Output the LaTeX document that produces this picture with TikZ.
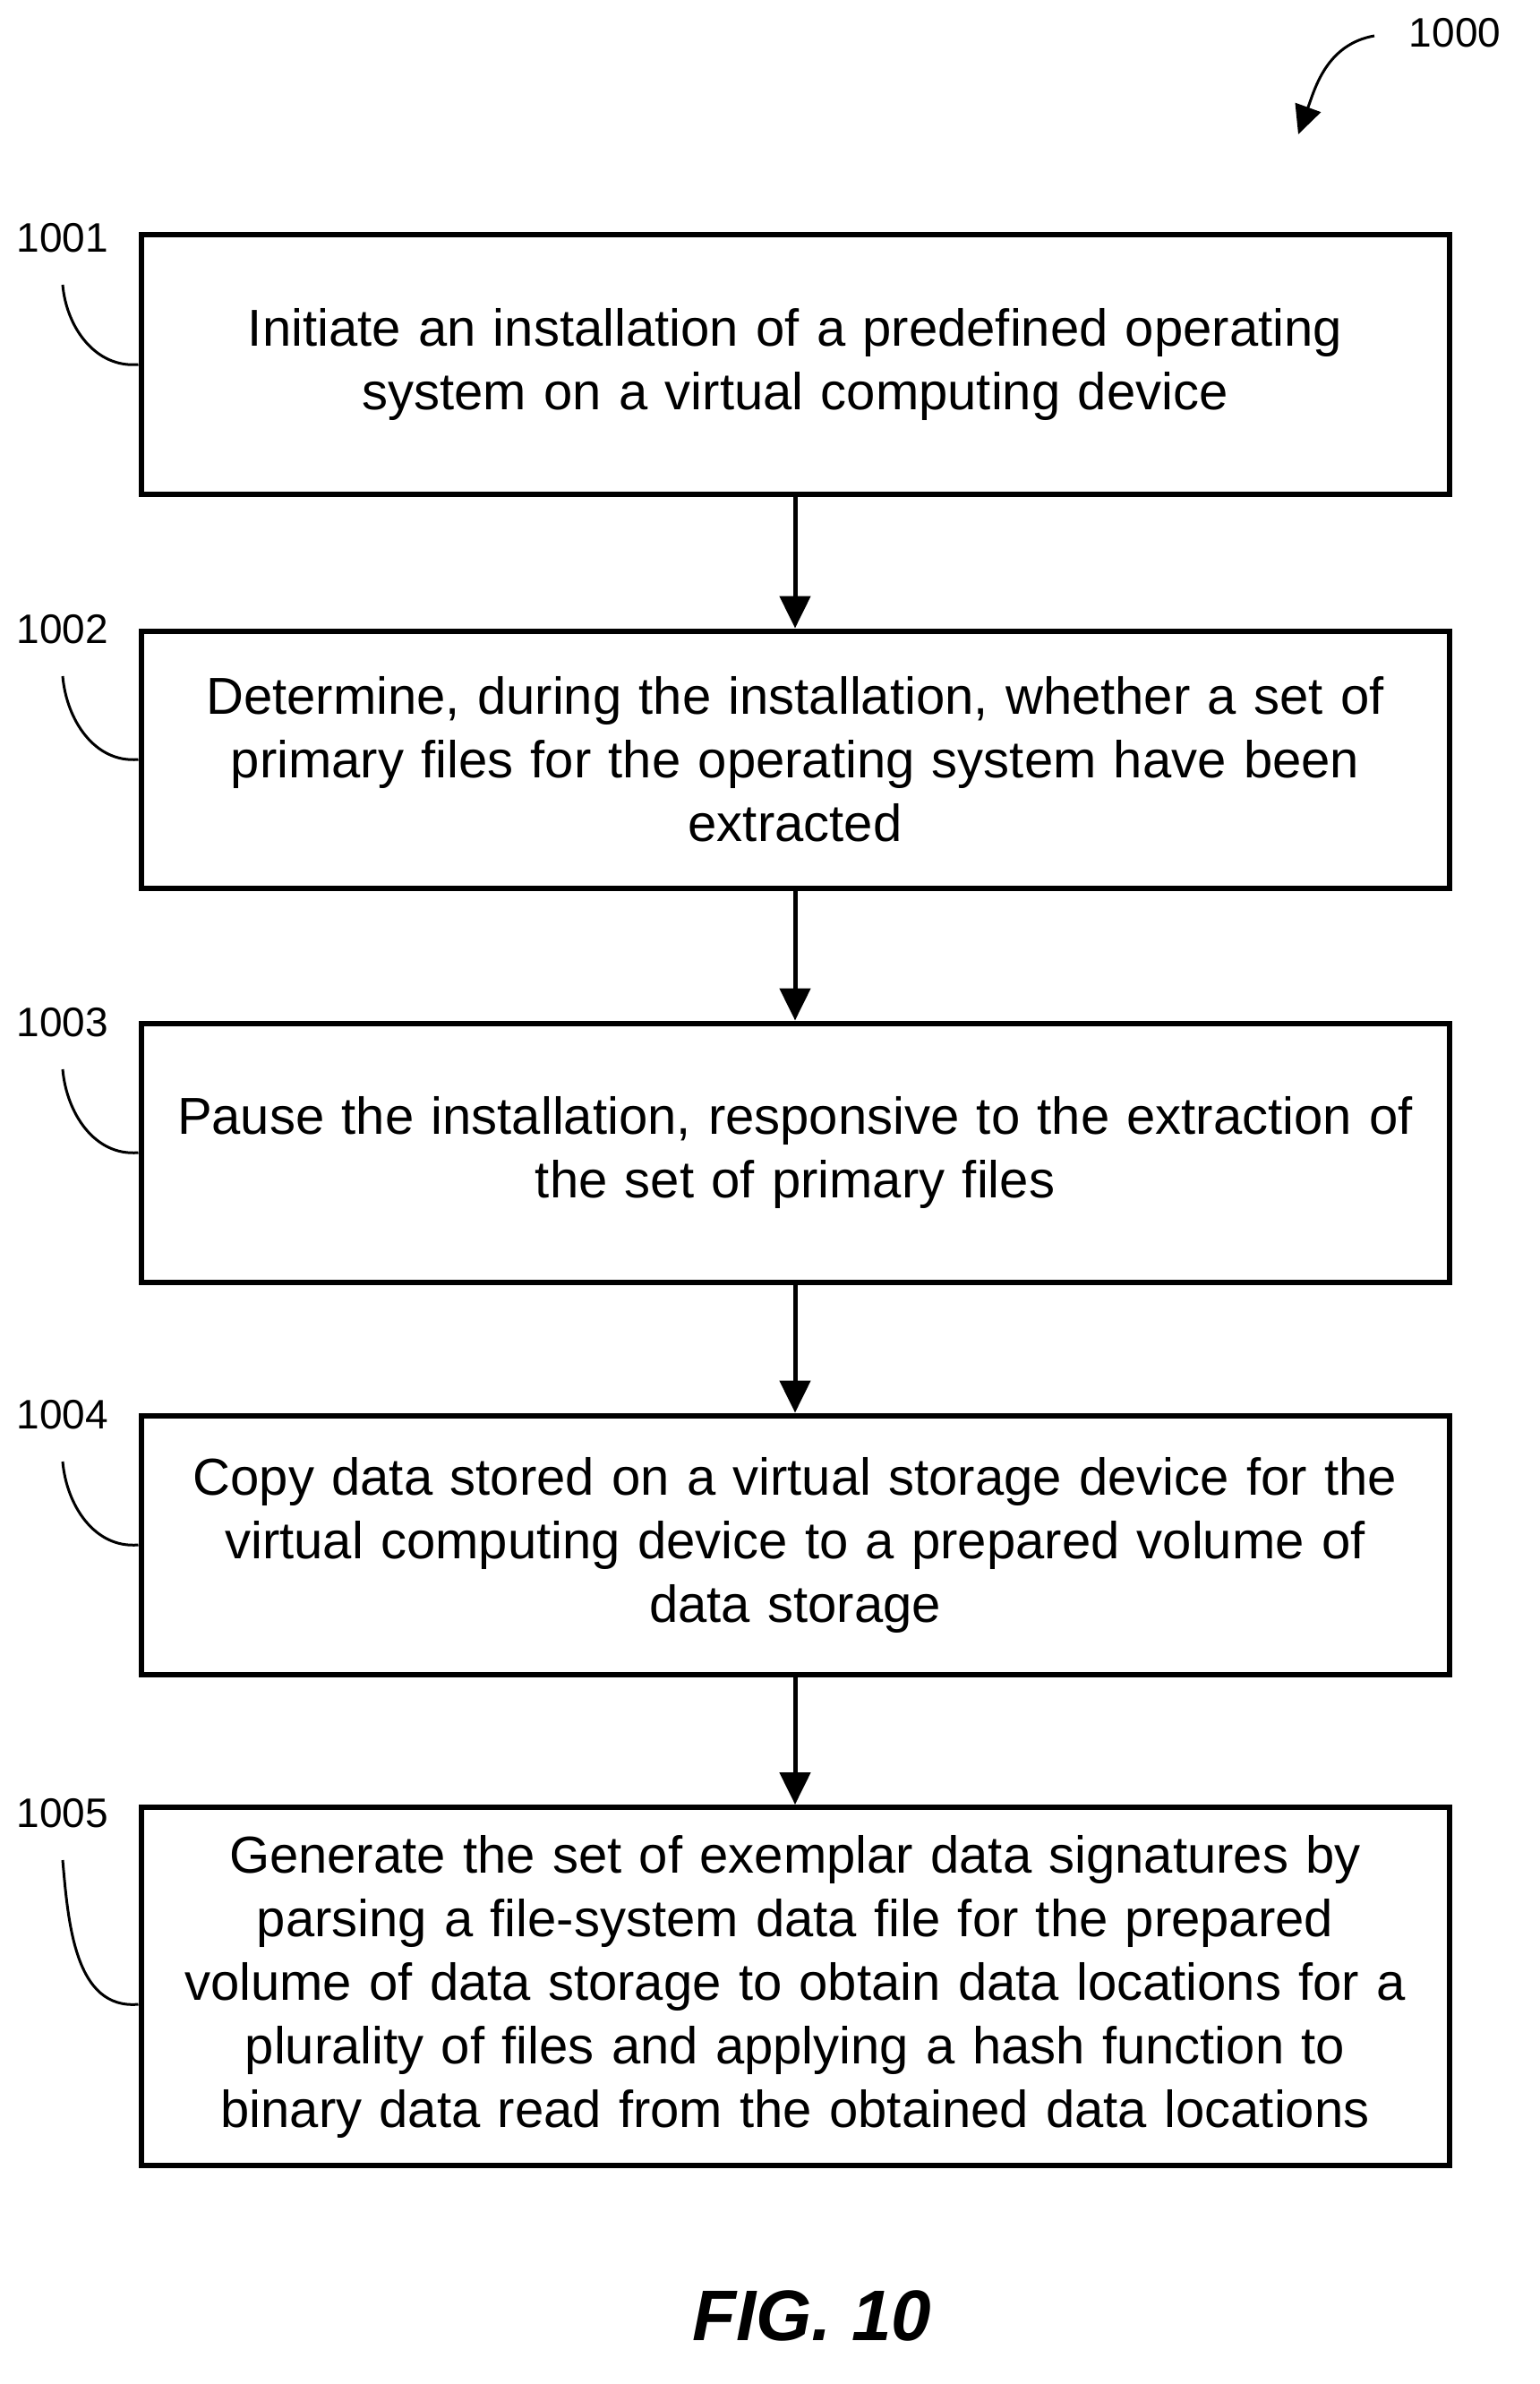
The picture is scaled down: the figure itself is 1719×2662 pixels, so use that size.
\documentclass[tikz,border=0pt]{standalone}
\usepackage{fontspec}
\setmainfont{Liberation Sans}
\usetikzlibrary{arrows.meta}
\tikzset{
  stepbox/.style={draw, line width=6pt, minimum width=1461pt, text width=1420pt, align=center,
    font=\fontsize{58}{71}\selectfont, inner sep=0pt},
  tag/.style={font=\fontsize{46}{52}\selectfont, inner sep=0pt},
  lead/.style={line width=3pt},
  flow/.style={line width=5pt, -{Triangle[length=36pt,width=34pt]}}
}
\begin{document}
\begin{tikzpicture}[x=1pt,y=-1pt]
\useasboundingbox (0,0) rectangle (1719,2662);
% boxes
\node[stepbox, minimum height=289pt] (b1) at (888,407) {Initiate an installation of a predefined operating\\system on a virtual computing device};
\node[stepbox, minimum height=287pt] (b2) at (888,848) {Determine, during the installation, whether a set of\\primary files for the operating system have been\\extracted};
\node[stepbox, minimum height=289pt] (b3) at (888,1287) {Pause the installation, responsive to the extraction of\\the set of primary files};
\node[stepbox, minimum height=289pt] (b4) at (888,1725) {Copy data stored on a virtual storage device for the\\virtual computing device to a prepared volume of\\data storage};
\node[stepbox, minimum height=400pt] (b5) at (888,2218) {Generate the set of exemplar data signatures by\\parsing a file-system data file for the prepared\\volume of data storage to obtain data locations for a\\plurality of files and applying a hash function to\\binary data read from the obtained data locations};
% arrows
\foreach \a/\b in {b1/b2,b2/b3,b3/b4,b4/b5}
  \draw[flow] (\a.south) -- (\b.north);
% reference numerals
\foreach \n/\y in {1/266,2/703,3/1142,4/1580,5/2025}{
  \node[tag] (t\n) at (70,\y) {100\n};
  \coordinate (c\n) at (70,\y+52);
}
\foreach \n in {1,...,4}
  \draw[lead] (c\n) to[out=-85,in=185] (b\n.west);
\draw[lead] (c5) to[out=-85,in=185] ([yshift=-20pt]b5.west);
\node[tag] (t0) at (1625,37) {1000};
\coordinate (c0) at (1535,40);
\coordinate (e0) at (1450,150);
\draw[line width=3pt, -{Triangle[length=32pt,width=30pt]}] (c0) to[out=190,in=70] (e0);
\node[font=\fontsize{80}{90}\selectfont\bfseries\itshape, inner sep=0pt] (fig) at (907,2586) {FIG. 10};
\end{tikzpicture}
\end{document}
